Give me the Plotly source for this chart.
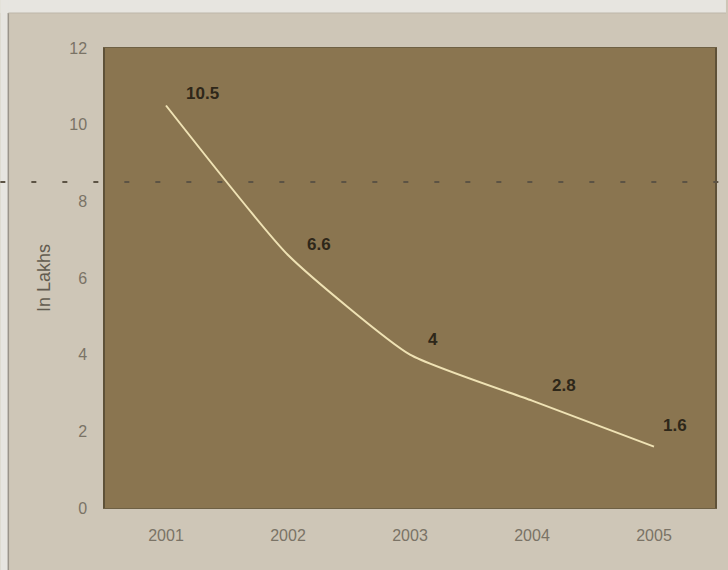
import plotly.graph_objects as go

years = ["2001", "2002", "2003", "2004", "2005"]
values = [10.5, 6.6, 4, 2.8, 1.6]
label_texts = ["10.5", "6.6", "4", "2.8", "1.6"]

# label offsets (layout only)
label_dx = [36, 31, 23, 32, 21]
label_dy = [12, 11, 15, 15, 21]

fig = go.Figure()
fig.add_trace(go.Scatter(
    x=years, y=values, mode="lines",
    line=dict(color="#EFE2B4", width=2, shape="spline", smoothing=0.5),
    hoverinfo="skip", showlegend=False,
))

for i, (y, t, dx, dy) in enumerate(zip(values, label_texts, label_dx, label_dy)):
    fig.add_annotation(x=i, y=y, text="<b>%s</b>" % t, showarrow=False,
                       xshift=dx, yshift=dy,
                       font=dict(family="Liberation Sans, Arial", size=17, color="#2E2719"))

W, H = 728, 570
L, R, T, B = 105, 11, 48, 62
pw, ph = W - L - R, H - T - B

def px(x):
    return (x - L) / pw

def py(y):
    return (H - B - y) / ph

shapes = [
    # light strip at top and left
    dict(type="rect", xref="paper", yref="paper", x0=px(0), x1=px(W), y0=py(13), y1=py(0),
         fillcolor="#E7E5E0", line_width=0, layer="below"),
    dict(type="rect", xref="paper", yref="paper", x0=px(0), x1=px(8), y0=py(H), y1=py(0),
         fillcolor="#E7E5E0", line_width=0, layer="below"),
    dict(type="line", xref="paper", yref="paper", x0=px(8), x1=px(8), y0=py(H), y1=py(13),
         line=dict(color="#9A948A", width=1.5)),
    dict(type="line", xref="paper", yref="paper", x0=px(8), x1=px(W), y0=py(13), y1=py(13),
         line=dict(color="#BDB6AA", width=1)),
    # dotted horizontal artifact line
    dict(type="line", xref="paper", yref="paper", x0=px(0), x1=px(W), y0=py(182), y1=py(182),
         line=dict(color="#5C5344", width=2, dash="5px,26px")),
]

fig.update_layout(
    width=W, height=H,
    margin=dict(l=L, r=R, t=T, b=B),
    paper_bgcolor="#CEC6B7",
    plot_bgcolor="#8A7550",
    shapes=shapes,
    showlegend=False,
    xaxis=dict(type="category", range=[-0.5, 4.5], showgrid=False, zeroline=False,
               showline=True, linecolor="#6E6044", linewidth=1, mirror=True,
               ticks="", ticklabelstandoff=13,
               tickfont=dict(family="Liberation Sans, Arial", size=16, color="#7A7366"),
               fixedrange=True),
    yaxis=dict(range=[0, 12], dtick=2, showgrid=False, zeroline=False,
               showline=True, linecolor="#5E5138", linewidth=1.5, mirror=True,
               ticks="", ticklabelstandoff=13,
               tickfont=dict(family="Liberation Sans, Arial", size=16, color="#7A7366"),
               title=dict(text="In Lakhs", standoff=14,
                          font=dict(family="Liberation Sans, Arial", size=18, color="#625B4F")),
               fixedrange=True),
)

fig.write_html("out.html")
